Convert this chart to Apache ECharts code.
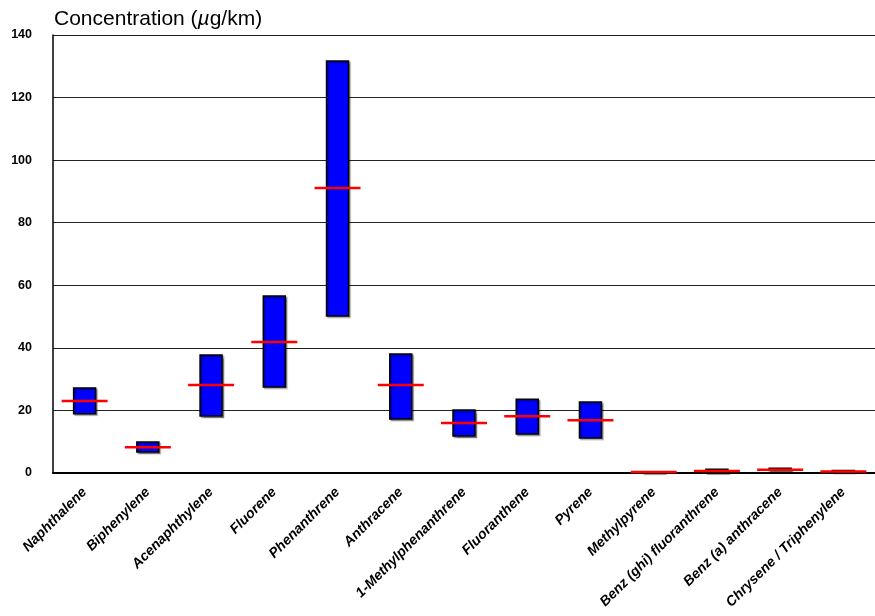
<!DOCTYPE html>
<html>
<head>
<meta charset="utf-8">
<script src="https://cdn.jsdelivr.net/npm/echarts@6/dist/echarts.min.js"></script>
<style>
  html, body { margin: 0; padding: 0; background: #fff; }
  #chart { width: 875px; height: 616px; }
</style>
</head>
<body>
<div id="chart"></div>
<script>
const compounds = ["Naphthalene", "Biphenylene", "Acenaphthylene", "Fluorene", "Phenanthrene", "Anthracene",
  "1-Methylphenanthrene", "Fluoranthene", "Pyrene", "Methylpyrene", "Benz (ghi) fluoranthrene",
  "Benz (a) anthracene", "Chrysene / Triphenylene"];
const lowValues  = [18.9, 6.7, 18.2, 27.5, 50.2, 17.3, 11.8, 12.5, 11.2, 0.1, 0.1, 0.8, 0.3];
const highValues = [27.2, 9.9, 37.7, 56.6, 131.7, 38.0, 20.1, 23.6, 22.7, 0.4, 1.2, 1.5, 0.8];
const meanValues = [23.0, 8.2, 28.1, 41.9, 91.1, 28.1, 16.0, 18.1, 16.9, 0.3, 0.6, 1.05, 0.5];

document.addEventListener("DOMContentLoaded", () => {
  const chart = echarts.init(document.getElementById("chart"));
  const data = compounds.map((c, i) => [i, lowValues[i], highValues[i], meanValues[i]]);

  chart.setOption({
    animation: false,
    title: {
      text: "Concentration ({it|\u00b5}g/km)",
      left: 49, top: 4,
      textStyle: {
        fontFamily: "Liberation Sans", fontSize: 21, fontWeight: "normal", color: "#000",
        rich: { it: { fontFamily: "Liberation Sans", fontSize: 21, fontStyle: "italic", color: "#000" } }
      }
    },
    grid: { left: 53, right: 0, top: 35, bottom: 143 },
    xAxis: {
      type: "category",
      data: compounds,
      axisLine: { lineStyle: { color: "#000", width: 2 } },
      axisTick: { show: false },
      axisLabel: {
        interval: 0, rotate: 45, margin: 17,
        fontFamily: "Liberation Sans", fontSize: 14, fontWeight: "bold", fontStyle: "italic", color: "#000"
      }
    },
    yAxis: {
      type: "value", min: 0, max: 140, interval: 20,
      axisLine: { show: true, lineStyle: { color: "#000", width: 1.5 } },
      axisTick: { show: false },
      splitLine: { lineStyle: { color: "#222", width: 1 } },
      axisLabel: { fontFamily: "Liberation Sans", fontSize: 12.5, fontWeight: "bold", color: "#000", margin: 21 }
    },
    series: [{
      type: "custom",
      data: data,
      renderItem: (params, api) => {
        const x = api.value(0);
        const lo = api.coord([x, api.value(1)]);
        const hi = api.coord([x, api.value(2)]);
        const mean = api.coord([x, api.value(3)]);
        const bw = 22, lw = 46;
        return {
          type: "group",
          children: [
            {
              type: "rect",
              shape: { x: lo[0] - bw / 2, y: hi[1], width: bw, height: Math.max(lo[1] - hi[1], 1) },
              style: { fill: "#0000ff", stroke: "#000", lineWidth: 1.5,
                shadowColor: "rgba(0,0,0,0.35)", shadowOffsetX: 1.5, shadowOffsetY: 1.5, shadowBlur: 1 }
            },
            {
              type: "line",
              shape: { x1: mean[0] - lw / 2, y1: mean[1], x2: mean[0] + lw / 2, y2: mean[1] },
              style: { stroke: "#ff0000", lineWidth: 2.5 }
            }
          ]
        };
      }
    }]
  });

  window.addEventListener("resize", () => chart.resize());
});
</script>
</body>
</html>
